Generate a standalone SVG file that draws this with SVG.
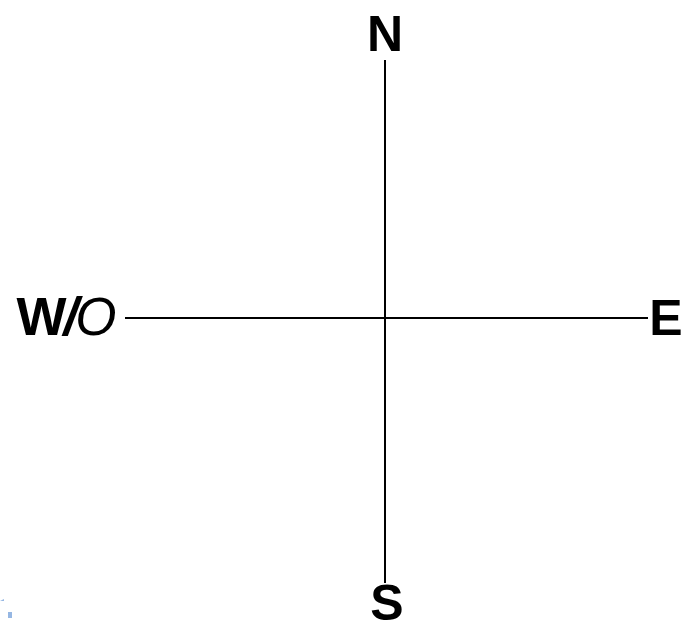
<svg xmlns="http://www.w3.org/2000/svg" width="682" height="628" viewBox="0 0 682 628">
<style>
.lbl{font-family:"Liberation Sans",Arial,sans-serif;font-weight:bold;font-size:50px;fill:#000;text-anchor:middle}
.ax{stroke:#000;stroke-width:2;fill:none}
</style>
<rect width="682" height="628" fill="#fff"/>
<g id="connectors">
<line class="ax" x1="385" y1="60" x2="385" y2="583"/>
<line class="ax" x1="125" y1="318" x2="648" y2="318"/>
</g>
<g id="north"><text class="lbl" x="385" y="51">N</text></g>
<g id="south"><text class="lbl" x="387" y="620">S</text></g>
<g id="east"><text class="lbl" x="666" y="335">E</text></g>
<g id="west"><text class="lbl" x="65" y="335" style="font-size:53px;letter-spacing:-3px">W<tspan style="font-style:italic">/</tspan><tspan style="font-style:italic;font-weight:normal">O</tspan></text></g>
<g id="artifact" fill="#6a9ad8" opacity="0.7">
<path d="M0 601 L4 599 L4 601 Z"/>
<rect x="8" y="612" width="4" height="6"/>
</g>
</svg>
